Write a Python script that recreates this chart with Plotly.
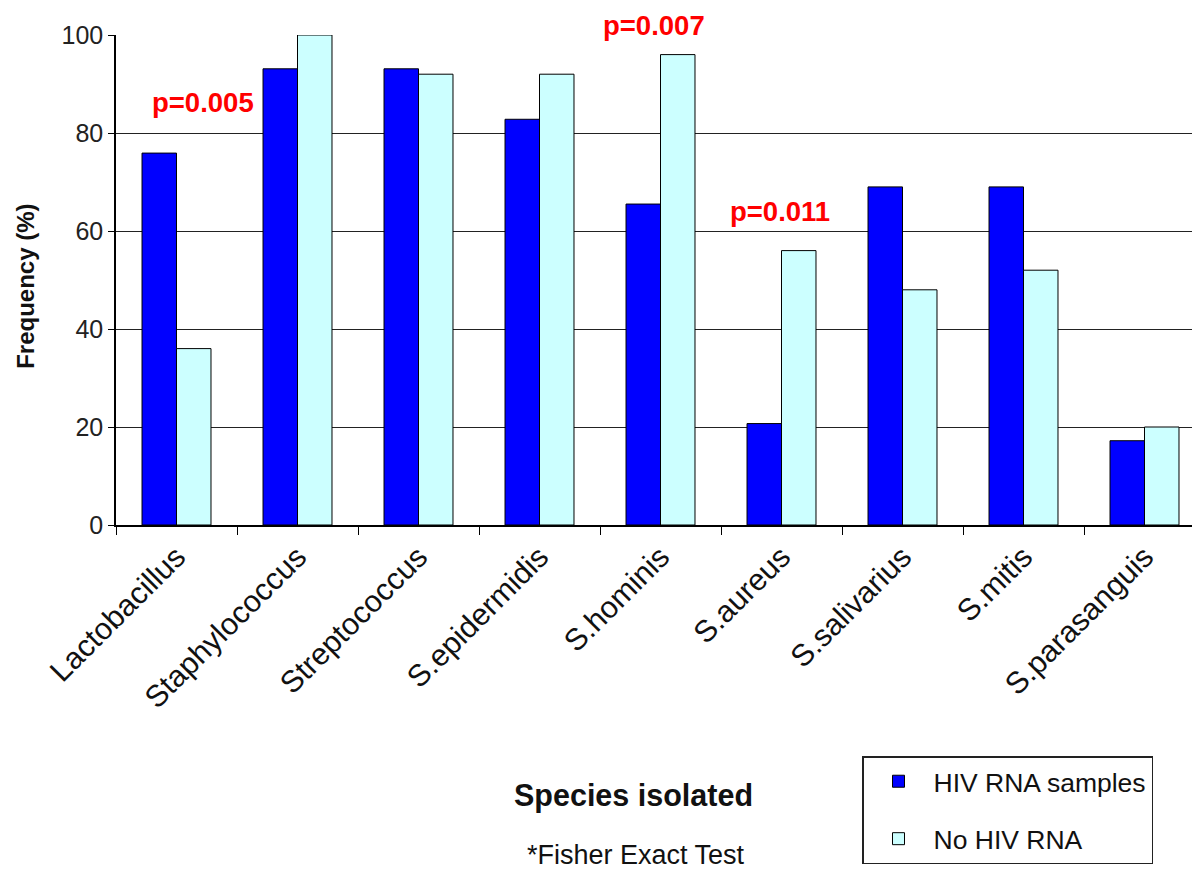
import plotly.graph_objects as go

species = ["Lactobacillus", "Staphylococcus", "Streptococcus", "S.epidermidis",
           "S.hominis", "S.aureus", "S.salivarius", "S.mitis", "S.parasanguis"]
hiv_rna = [75.9, 93.1, 93.1, 82.8, 65.5, 20.7, 69.0, 69.0, 17.2]
no_hiv_rna = [36.0, 100.0, 92.0, 92.0, 96.0, 56.0, 48.0, 52.0, 20.0]
yticks = [0, 20, 40, 60, 80, 100]
pvals = [("p=0.005", "Lactobacillus", 86.3, 0.22), ("p=0.007", "S.hominis", 102.0, -0.05),
         ("p=0.011", "S.aureus", 63.9, -0.01)]

FONT = "Liberation Sans, Arial, sans-serif"

# page body has an 8px margin: compensate so the plot sits where the reference has it
L, T, B = 108, 27, 353
PLOT_H = 870 - T - B          # 490 px for 0..100
PLOT_W = 1200 - L             # 1092 px
CAT_PX = 121.0

fig = go.Figure()
fig.add_trace(go.Bar(x=species, y=hiv_rna, name="HIV RNA samples", legendgroup="a",
                     marker=dict(color="#0000FF", line=dict(color="black", width=1))))
fig.add_trace(go.Bar(x=species, y=no_hiv_rna, name="No HIV RNA", legendgroup="b",
                     marker=dict(color="#CCFFFF", line=dict(color="black", width=1))))

annotations = []
for txt, cat, yv, dx in pvals:
    idx = species.index(cat)
    annotations.append(dict(x=idx + dx, y=yv / 100.0, xref="x", yref="paper", text=txt,
                            showarrow=False, xanchor="center", yanchor="middle",
                            font=dict(family=FONT, size=27.5, color="#FF0000", weight="bold")))
annotations.append(dict(x=-90 / PLOT_W, y=0.486, xref="paper", yref="paper", text="Frequency (%)",
                        textangle=-90, showarrow=False, xanchor="center", yanchor="middle",
                        font=dict(family=FONT, size=24, color="#111", weight="bold")))
annotations.append(dict(x=(633 - 116) / PLOT_W, y=(525 - 795) / PLOT_H, xref="paper", yref="paper",
                        text="Species isolated", showarrow=False, xanchor="center", yanchor="middle",
                        font=dict(family=FONT, size=30.5, color="#111", weight="bold")))
annotations.append(dict(x=(636 - 116) / PLOT_W, y=(525 - 855) / PLOT_H, xref="paper", yref="paper",
                        text="*Fisher Exact Test", showarrow=False, xanchor="center", yanchor="middle",
                        font=dict(family=FONT, size=27, color="#111")))

fig.update_layout(
    width=1200, height=870,
    margin=dict(l=L, r=0, t=T, b=B),
    plot_bgcolor="white", paper_bgcolor="white",
    barmode="group", bargap=0.43, bargroupgap=0,
    font=dict(family=FONT, color="#222"),
    annotations=annotations,
    legend=dict(x=(862 - 116) / PLOT_W, y=(525 - 756) / PLOT_H, xanchor="left", yanchor="top",
                bordercolor="#222", borderwidth=1.5, bgcolor="white",
                font=dict(family=FONT, size=26.5, color="#111"),
                itemwidth=60, tracegroupgap=20, traceorder="grouped"),
    showlegend=True,
)
fig.update_xaxes(range=[-0.5, -0.5 + PLOT_W / CAT_PX], tickson="boundaries", ticks="outside",
                 ticklen=8, tickcolor="black", showline=True, linecolor="black", linewidth=1.5,
                 tickangle=-45, tickfont=dict(family=FONT, size=30.5, color="#111"),
                 showgrid=False)
fig.update_yaxes(range=[0, 100], tickvals=yticks, ticks="outside", ticklen=6,
                 tickcolor="black", showline=True, linecolor="black", linewidth=1.5,
                 gridcolor="#222", gridwidth=1, zeroline=False,
                 tickfont=dict(family=FONT, size=25, color="#222"))

fig.write_html("out.html")
